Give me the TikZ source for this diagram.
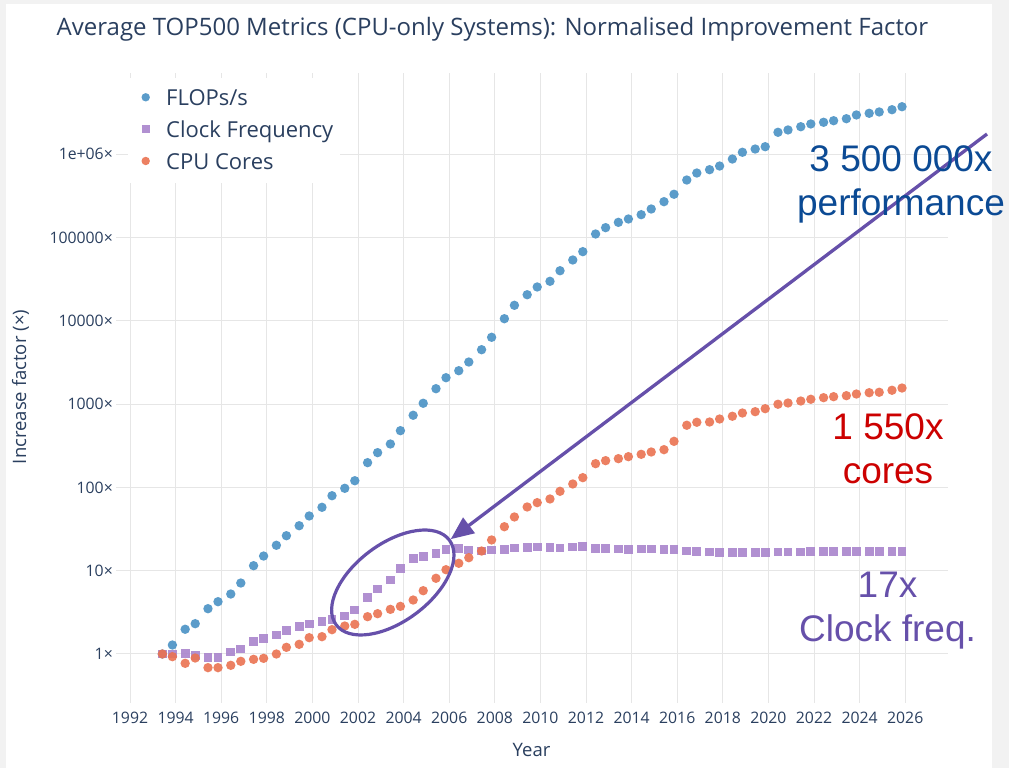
\documentclass[tikz,border=0pt]{standalone}
\usepackage{fontspec}
\setmainfont{Open Sans}
\newfontfamily\calloutfont{Liberation Sans}
\usetikzlibrary{arrows.meta,shapes.geometric}

\definecolor{pagegray}{HTML}{F2F2F2}
\definecolor{gridgray}{HTML}{E6E6E6}
\definecolor{axisink}{HTML}{2A3F5F}
\definecolor{flopsblue}{HTML}{4A92C5}
\definecolor{clocklilac}{HTML}{A985CC}
\definecolor{coresorange}{HTML}{EA7352}
\definecolor{notepurple}{HTML}{6650AA}
\definecolor{perfblue}{HTML}{0B4A94}
\definecolor{coresred}{HTML}{CC0000}

\tikzstyle{gridrule} = [draw=gridgray, line width=1pt]
\tikzstyle{ticktext} = [text=axisink, inner sep=0pt, font=\fontsize{15.8}{18}\selectfont]
\tikzstyle{axistitle} = [text=axisink, inner sep=0pt, font=\fontsize{18.5}{22}\selectfont]
\tikzstyle{legtext} = [anchor=base west, text=axisink, inner sep=0pt, font=\fontsize{22}{26}\selectfont]
\tikzstyle{flopsdot} = [fill=flopsblue, fill opacity=0.9]
\tikzstyle{clocksq} = [fill=clocklilac, fill opacity=0.9]
\tikzstyle{coresdot} = [fill=coresorange, fill opacity=0.9]
\tikzstyle{callout} = [align=center, inner sep=0pt, font=\calloutfont\fontsize{37}{44}\selectfont]
\tikzstyle{clusterring} = [ellipse, draw=notepurple, line width=3.2pt, minimum width=141.4pt,
    minimum height=77.4pt, inner sep=0pt, rotate=36.8]
\tikzstyle{trendarrow} = [draw=notepurple, line width=3.3pt, -{Triangle[length=23pt,width=19pt]}]

\begin{document}
\begin{tikzpicture}[x=1pt, y=1pt]
    \useasboundingbox (0,0) rectangle (1009,768);
    \fill[pagegray] (0,0) rectangle (1009,768);
    \fill[white] (6,0) rectangle (992,764);

    \node[axisink, inner sep=0pt, anchor=base, font=\fontsize{24}{29}\selectfont] (title) at (492.5,732)
        {Average TOP500 Metrics (CPU-only Systems): Normalised Improvement Factor};
    \node[axistitle, anchor=base] (xtitle) at (531.5,11.5) {Year};
    \node[axistitle, rotate=90] (ytitle) at (20.5,381) {Increase factor (×)};

    % axes: one unit = one year / one decade
    \begin{scope}[x=22.8pt, y=83.3pt, shift={(130pt,114pt)}]
        \foreach \yr in {1992,1994,...,2026} {
            \draw[gridrule] ({\yr-1992},-0.588) -- ({\yr-1992},6.975);
            \node[ticktext, anchor=base] at ({\yr-1992},-0.832) {\yr};
        }
        \foreach \dec/\lab in {0/1×, 1/10×, 2/100×, 3/1000×, 4/10000×, 5/100000×, 6/1e+06×} {
            \draw[gridrule] (-0.614,\dec) -- (35.88,\dec);
            \node[ticktext, anchor=east] at (-0.746,\dec) {\lab};
        }

        % FLOPs/s
        \foreach \yr/\dec in {1993.42/0, 1993.86/0.108, 1994.42/0.297, 1994.86/0.364, 1995.42/0.544,
            1995.86/0.628, 1996.42/0.720, 1996.86/0.852, 1997.42/1.060, 1997.86/1.176, 1998.42/1.305,
            1998.86/1.420, 1999.42/1.540, 1999.86/1.657, 2000.42/1.761, 2000.86/1.900, 2001.42/1.989,
            2001.86/2.080, 2002.42/2.297, 2002.86/2.417, 2003.42/2.521, 2003.86/2.681, 2004.42/2.866,
            2004.86/3.010, 2005.42/3.185, 2005.86/3.317, 2006.42/3.401, 2006.86/3.505, 2007.42/3.653,
            2007.86/3.802, 2008.42/4.025, 2008.86/4.186, 2009.42/4.313, 2009.86/4.406, 2010.42/4.474,
            2010.86/4.601, 2011.42/4.730, 2011.86/4.830, 2012.42/5.042, 2012.86/5.118, 2013.42/5.182,
            2013.86/5.222, 2014.42/5.274, 2014.86/5.342, 2015.42/5.430, 2015.86/5.519, 2016.42/5.690,
            2016.86/5.774, 2017.42/5.814, 2017.86/5.858, 2018.42/5.942, 2018.86/6.023, 2019.42/6.062,
            2019.86/6.090, 2020.42/6.263, 2020.86/6.291, 2021.42/6.330, 2021.86/6.363, 2022.42/6.383,
            2022.86/6.402, 2023.42/6.426, 2023.86/6.471, 2024.42/6.491, 2024.86/6.507, 2025.42/6.534,
            2025.86/6.570}
            \fill[flopsdot] ({\yr-1992},\dec) circle (4.7pt);

        % clock frequency
        \foreach \yr/\dec in {1993.42/0, 1993.86/0, 1994.42/0.004, 1994.86/-0.020, 1995.42/-0.044,
            1995.86/-0.044, 1996.42/0.024, 1996.86/0.060, 1997.42/0.148, 1997.86/0.188, 1998.42/0.228,
            1998.86/0.284, 1999.42/0.328, 1999.86/0.360, 2000.42/0.392, 2000.86/0.416, 2001.42/0.456,
            2001.86/0.528, 2002.42/0.681, 2002.86/0.780, 2003.42/0.888, 2003.86/1.024, 2004.42/1.144,
            2004.86/1.168, 2005.42/1.209, 2005.86/1.257, 2006.42/1.264, 2006.86/1.248, 2007.42/1.236,
            2007.86/1.248, 2008.42/1.257, 2008.86/1.272, 2009.42/1.281, 2009.86/1.285, 2010.42/1.281,
            2010.86/1.272, 2011.42/1.285, 2011.86/1.288, 2012.42/1.269, 2012.86/1.264, 2013.42/1.260,
            2013.86/1.252, 2014.42/1.260, 2014.86/1.260, 2015.42/1.257, 2015.86/1.252, 2016.42/1.236,
            2016.86/1.228, 2017.42/1.224, 2017.86/1.216, 2018.42/1.216, 2018.86/1.216, 2019.42/1.220,
            2019.86/1.220, 2020.42/1.224, 2020.86/1.224, 2021.42/1.224, 2021.86/1.226, 2022.42/1.226,
            2022.86/1.226, 2023.42/1.226, 2023.86/1.226, 2024.42/1.226, 2024.86/1.226, 2025.42/1.226,
            2025.86/1.226}
            \fill[clocksq] ({\yr-1992},\dec) ++(-4.4pt,-4.4pt) rectangle ++(8.8pt,8.8pt);

        % CPU cores
        \foreach \yr/\dec in {1993.42/0, 1993.86/-0.032, 1994.42/-0.112, 1994.86/-0.048, 1995.42/-0.164,
            1995.86/-0.164, 1996.42/-0.136, 1996.86/-0.088, 1997.42/-0.064, 1997.86/-0.052, 1998.42/0,
            1998.86/0.080, 1999.42/0.116, 1999.86/0.196, 2000.42/0.208, 2000.86/0.292, 2001.42/0.336,
            2001.86/0.356, 2002.42/0.448, 2002.86/0.484, 2003.42/0.536, 2003.86/0.572, 2004.42/0.648,
            2004.86/0.760, 2005.42/0.909, 2005.86/1.012, 2006.42/1.089, 2006.86/1.156, 2007.42/1.236,
            2007.86/1.369, 2008.42/1.528, 2008.86/1.645, 2009.42/1.765, 2009.86/1.817, 2010.42/1.861,
            2010.86/1.953, 2011.42/2.041, 2011.86/2.117, 2012.42/2.285, 2012.86/2.321, 2013.42/2.345,
            2013.86/2.369, 2014.42/2.397, 2014.86/2.425, 2015.42/2.453, 2015.86/2.553, 2016.42/2.746,
            2016.86/2.782, 2017.42/2.785, 2017.86/2.821, 2018.42/2.854, 2018.86/2.893, 2019.42/2.909,
            2019.86/2.945, 2020.42/2.998, 2020.86/3.013, 2021.42/3.037, 2021.86/3.058, 2022.42/3.077,
            2022.86/3.089, 2023.42/3.101, 2023.86/3.121, 2024.42/3.137, 2024.86/3.142, 2025.42/3.166,
            2025.86/3.193}
            \fill[coresdot] ({\yr-1992},\dec) circle (4.7pt);
    \end{scope}

    % legend
    \fill[white] (128,585) rectangle (340,690);
    \fill[flopsdot] (145.7,670.7) circle (4.2);
    \node[legtext] (legflops) at (166,662) {FLOPs/s};
    \fill[clocksq] (141.9,634.9) rectangle ++(7.6,7.6);
    \node[legtext] (legclock) at (166,630.7) {Clock Frequency};
    \fill[coresdot] (145.7,607) circle (4.2);
    \node[legtext] (legcores) at (166,598.7) {CPU Cores};

    % annotations
    \node[clusterring] (bulge) at (392.8,185.5) {};
    \coordinate (arrowfoot) at (987,634);
    \draw[trendarrow] (arrowfoot) -- (bulge.east);

    \node[callout, text=perfblue] (perfnote) at (901,584) {3 500 000x\\performance};
    \node[callout, text=coresred] (coresnote) at (888,319) {1 550x\\cores};
    \node[callout, text=notepurple] (clocknote) at (887.5,157) {17x\\Clock freq.};
\end{tikzpicture}
\end{document}
